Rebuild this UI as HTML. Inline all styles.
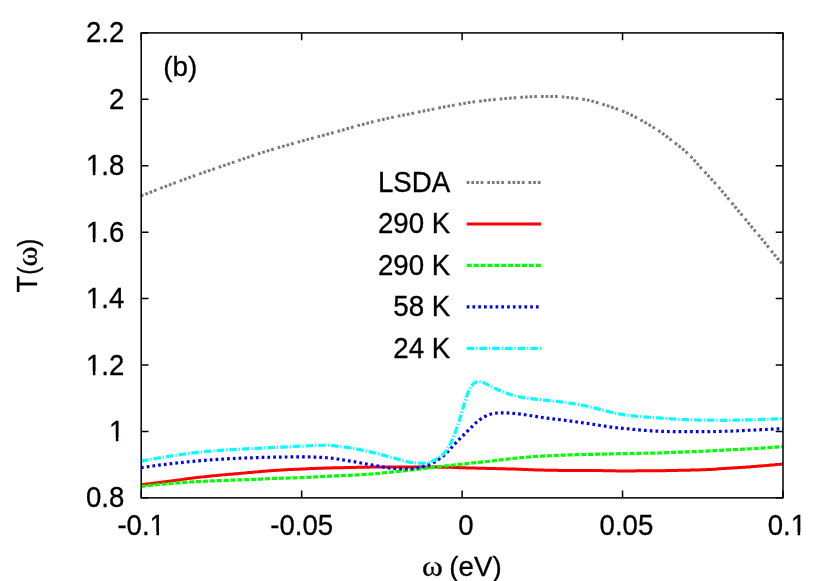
<!DOCTYPE html>
<html><head><meta charset="utf-8"><title>T(w)</title>
<style>
html,body{margin:0;padding:0;background:#fff;}
body{width:830px;height:581px;overflow:hidden;font-family:"Liberation Sans",sans-serif;}
svg{display:block;will-change:transform;}
text{font-family:"Liberation Sans",sans-serif;font-size:28px;fill:#000;stroke:#000;stroke-width:0.3px;}
.sym{font-family:"Liberation Serif",serif;}
</style></head><body>
<svg width="830" height="581" viewBox="0 0 830 581">
<rect x="0" y="0" width="830" height="581" fill="#ffffff"/>
<path d="M141.20,497.85 v-7.3 M141.20,32.9 v7.3 M301.65,497.85 v-7.3 M301.65,32.9 v7.3 M462.10,497.85 v-7.3 M462.10,32.9 v7.3 M622.55,497.85 v-7.3 M622.55,32.9 v7.3 M783.00,497.85 v-7.3 M783.00,32.9 v7.3 M141.2,497.85 h7.3 M783.0,497.85 h-7.3 M141.2,431.43 h7.3 M783.0,431.43 h-7.3 M141.2,365.01 h7.3 M783.0,365.01 h-7.3 M141.2,298.59 h7.3 M783.0,298.59 h-7.3 M141.2,232.16 h7.3 M783.0,232.16 h-7.3 M141.2,165.74 h7.3 M783.0,165.74 h-7.3 M141.2,99.32 h7.3 M783.0,99.32 h-7.3 M141.2,32.90 h7.3 M783.0,32.90 h-7.3" stroke="#000" stroke-width="1.5" fill="none"/>
<text transform="translate(124.30,507.35) scale(0.985,1.04)" text-anchor="end">0.8</text>
<text transform="translate(124.30,440.93) scale(0.985,1.04)" text-anchor="end">1</text>
<rect x="110.27" y="437.55" width="5.58" height="4.88" fill="#fff"/><rect x="118.39" y="437.55" width="5.37" height="4.88" fill="#fff"/>
<text transform="translate(124.30,374.51) scale(0.985,1.04)" text-anchor="end">1.2</text>
<rect x="87.27" y="371.13" width="5.58" height="4.88" fill="#fff"/><rect x="95.39" y="371.13" width="5.37" height="4.88" fill="#fff"/>
<text transform="translate(124.30,308.09) scale(0.985,1.04)" text-anchor="end">1.4</text>
<rect x="87.27" y="304.71" width="5.58" height="4.88" fill="#fff"/><rect x="95.39" y="304.71" width="5.37" height="4.88" fill="#fff"/>
<text transform="translate(124.30,241.66) scale(0.985,1.04)" text-anchor="end">1.6</text>
<rect x="87.27" y="238.29" width="5.58" height="4.88" fill="#fff"/><rect x="95.39" y="238.29" width="5.37" height="4.88" fill="#fff"/>
<text transform="translate(124.30,175.24) scale(0.985,1.04)" text-anchor="end">1.8</text>
<rect x="87.27" y="171.87" width="5.58" height="4.88" fill="#fff"/><rect x="95.39" y="171.87" width="5.37" height="4.88" fill="#fff"/>
<text transform="translate(124.30,108.82) scale(0.985,1.04)" text-anchor="end">2</text>
<text transform="translate(124.30,42.40) scale(0.985,1.04)" text-anchor="end">2.2</text>
<text transform="translate(141.20,535.40) scale(0.985,1.04)" text-anchor="middle">-0.1</text>
<rect x="150.93" y="532.02" width="5.58" height="4.88" fill="#fff"/><rect x="159.05" y="532.02" width="5.37" height="4.88" fill="#fff"/>
<text transform="translate(301.65,535.40) scale(0.985,1.04)" text-anchor="middle">-0.05</text>
<text transform="translate(466.00,535.40) scale(0.985,1.04)" text-anchor="middle">0</text>
<text transform="translate(626.45,535.40) scale(0.985,1.04)" text-anchor="middle">0.05</text>
<text transform="translate(786.90,535.40) scale(0.985,1.04)" text-anchor="middle">0.1</text>
<rect x="792.04" y="532.02" width="5.58" height="4.88" fill="#fff"/><rect x="800.16" y="532.02" width="5.37" height="4.88" fill="#fff"/>
<text class="sym" transform="translate(421.90,576.00) scale(1.13,1.03)" text-anchor="start">ω</text>
<text transform="translate(449.30,576.00) scale(0.99,1.0)" text-anchor="start">(eV)</text>
<text transform="translate(36.80,292.40) rotate(-90) scale(0.985,1.06)" text-anchor="start">T</text>
<text transform="translate(36.80,274.80) rotate(-90) scale(0.85,1.0)" text-anchor="start">(</text>
<text class="sym" transform="translate(36.80,266.40) rotate(-90) scale(1.08,1.06)" text-anchor="start">ω</text>
<text transform="translate(36.80,246.80) rotate(-90) scale(0.85,1.0)" text-anchor="start">)</text>
<text transform="translate(163.30,75.80) scale(0.995,1.0)" text-anchor="start">(b)</text>
<path d="M141.0,196.00 L143.0,195.10 L145.0,194.39 L147.0,193.58 L149.0,192.79 L151.0,191.99 L153.0,191.20 L155.0,190.42 L157.0,189.64 L159.0,188.86 L161.0,188.09 L163.0,187.32 L165.0,186.56 L167.0,185.80 L169.0,185.05 L171.0,184.30 L173.0,183.56 L175.0,182.81 L177.0,182.08 L179.0,181.34 L181.0,180.61 L183.0,179.88 L185.0,179.16 L187.0,178.43 L189.0,177.71 L191.0,176.99 L193.0,176.28 L195.0,175.57 L197.0,174.86 L199.0,174.15 L201.0,173.44 L203.0,172.74 L205.0,172.04 L207.0,171.34 L209.0,170.65 L211.0,169.95 L213.0,169.26 L215.0,168.57 L217.0,167.88 L219.0,167.20 L221.0,166.52 L223.0,165.84 L225.0,165.16 L227.0,164.48 L229.0,163.81 L231.0,163.13 L233.0,162.45 L235.0,161.77 L237.0,161.09 L239.0,160.41 L241.0,159.72 L243.0,159.02 L245.0,158.33 L247.0,157.64 L249.0,156.95 L251.0,156.26 L253.0,155.58 L255.0,154.91 L257.0,154.24 L259.0,153.59 L261.0,152.95 L263.0,152.32 L265.0,151.70 L267.0,151.08 L269.0,150.47 L271.0,149.87 L273.0,149.28 L275.0,148.69 L277.0,148.10 L279.0,147.52 L281.0,146.94 L283.0,146.36 L285.0,145.79 L287.0,145.22 L289.0,144.65 L291.0,144.08 L293.0,143.52 L295.0,142.96 L297.0,142.41 L299.0,141.86 L301.0,141.31 L303.0,140.76 L305.0,140.21 L307.0,139.67 L309.0,139.12 L311.0,138.58 L313.0,138.04 L315.0,137.50 L317.0,136.97 L319.0,136.44 L321.0,135.91 L323.0,135.38 L325.0,134.85 L327.0,134.31 L329.0,133.78 L331.0,133.25 L333.0,132.71 L335.0,132.17 L337.0,131.62 L339.0,131.07 L341.0,130.51 L343.0,129.94 L345.0,129.36 L347.0,128.78 L349.0,128.20 L351.0,127.61 L353.0,127.04 L355.0,126.48 L357.0,125.92 L359.0,125.39 L361.0,124.86 L363.0,124.34 L365.0,123.82 L367.0,123.31 L369.0,122.81 L371.0,122.31 L373.0,121.82 L375.0,121.33 L377.0,120.85 L379.0,120.37 L381.0,119.91 L383.0,119.44 L385.0,118.99 L387.0,118.54 L389.0,118.10 L391.0,117.67 L393.0,117.25 L395.0,116.83 L397.0,116.42 L399.0,116.02 L401.0,115.61 L403.0,115.21 L405.0,114.80 L407.0,114.39 L409.0,113.99 L411.0,113.58 L413.0,113.18 L415.0,112.78 L417.0,112.38 L419.0,111.98 L421.0,111.58 L423.0,111.17 L425.0,110.77 L427.0,110.37 L429.0,109.96 L431.0,109.56 L433.0,109.15 L435.0,108.75 L437.0,108.36 L439.0,107.96 L441.0,107.58 L443.0,107.19 L445.0,106.82 L447.0,106.45 L449.0,106.08 L451.0,105.72 L453.0,105.36 L455.0,104.99 L457.0,104.63 L459.0,104.28 L461.0,103.92 L463.0,103.58 L465.0,103.24 L467.0,102.92 L469.0,102.60 L471.0,102.30 L473.0,102.01 L475.0,101.73 L477.0,101.47 L479.0,101.22 L481.0,100.98 L483.0,100.75 L485.0,100.52 L487.0,100.30 L489.0,100.09 L491.0,99.88 L493.0,99.68 L495.0,99.48 L497.0,99.29 L499.0,99.11 L501.0,98.93 L503.0,98.76 L505.0,98.59 L507.0,98.42 L509.0,98.26 L511.0,98.10 L513.0,97.95 L515.0,97.80 L517.0,97.65 L519.0,97.51 L521.0,97.37 L523.0,97.23 L525.0,97.11 L527.0,96.99 L529.0,96.88 L531.0,96.79 L533.0,96.69 L535.0,96.61 L537.0,96.53 L539.0,96.47 L541.0,96.43 L543.0,96.41 L545.0,96.41 L547.0,96.43 L549.0,96.45 L551.0,96.47 L553.0,96.51 L555.0,96.55 L557.0,96.60 L559.0,96.68 L561.0,96.80 L563.0,96.97 L565.0,97.16 L567.0,97.38 L569.0,97.59 L571.0,97.79 L573.0,97.99 L575.0,98.19 L577.0,98.40 L579.0,98.62 L581.0,98.87 L583.0,99.15 L585.0,99.48 L587.0,99.88 L589.0,100.33 L591.0,100.85 L593.0,101.40 L595.0,101.97 L597.0,102.56 L599.0,103.15 L601.0,103.75 L603.0,104.36 L605.0,104.99 L607.0,105.63 L609.0,106.29 L611.0,106.96 L613.0,107.63 L615.0,108.31 L617.0,109.00 L619.0,109.72 L621.0,110.46 L623.0,111.25 L625.0,112.08 L627.0,112.96 L629.0,113.90 L631.0,114.87 L633.0,115.88 L635.0,116.91 L637.0,117.96 L639.0,119.04 L641.0,120.14 L643.0,121.27 L645.0,122.42 L647.0,123.59 L649.0,124.77 L651.0,125.97 L653.0,127.19 L655.0,128.43 L657.0,129.71 L659.0,131.03 L661.0,132.39 L663.0,133.81 L665.0,135.28 L667.0,136.78 L669.0,138.31 L671.0,139.86 L673.0,141.40 L675.0,142.95 L677.0,144.49 L679.0,146.05 L681.0,147.63 L683.0,149.27 L685.0,150.98 L687.0,152.78 L689.0,154.69 L691.0,156.73 L693.0,158.88 L695.0,161.11 L697.0,163.38 L699.0,165.65 L701.0,167.88 L703.0,170.07 L705.0,172.23 L707.0,174.38 L709.0,176.51 L711.0,178.67 L713.0,180.84 L715.0,183.05 L717.0,185.29 L719.0,187.59 L721.0,189.92 L723.0,192.29 L725.0,194.68 L727.0,197.09 L729.0,199.50 L731.0,201.92 L733.0,204.33 L735.0,206.74 L737.0,209.15 L739.0,211.56 L741.0,213.98 L743.0,216.39 L745.0,218.81 L747.0,221.21 L749.0,223.61 L751.0,226.01 L753.0,228.39 L755.0,230.77 L757.0,233.16 L759.0,235.57 L761.0,237.99 L763.0,240.45 L765.0,242.92 L767.0,245.41 L769.0,247.91 L771.0,250.41 L773.0,252.91 L775.0,255.38 L777.0,257.85 L779.0,260.31 L781.0,262.48 L783.0,265.20" stroke="#7a7a7a" stroke-width="3" fill="none" stroke-dasharray="2.7 1.95 2.7 1.95 2.7 1.95 2.7 4.05"/>
<path d="M141.0,484.90 L143.0,484.60 L145.0,484.36 L147.0,484.09 L149.0,483.82 L151.0,483.56 L153.0,483.29 L155.0,483.02 L157.0,482.76 L159.0,482.50 L161.0,482.23 L163.0,481.97 L165.0,481.71 L167.0,481.45 L169.0,481.19 L171.0,480.93 L173.0,480.68 L175.0,480.42 L177.0,480.15 L179.0,479.89 L181.0,479.63 L183.0,479.37 L185.0,479.10 L187.0,478.84 L189.0,478.58 L191.0,478.33 L193.0,478.08 L195.0,477.83 L197.0,477.58 L199.0,477.34 L201.0,477.10 L203.0,476.88 L205.0,476.65 L207.0,476.44 L209.0,476.23 L211.0,476.02 L213.0,475.82 L215.0,475.62 L217.0,475.43 L219.0,475.24 L221.0,475.06 L223.0,474.88 L225.0,474.70 L227.0,474.52 L229.0,474.34 L231.0,474.17 L233.0,473.99 L235.0,473.82 L237.0,473.65 L239.0,473.48 L241.0,473.30 L243.0,473.13 L245.0,472.95 L247.0,472.78 L249.0,472.60 L251.0,472.42 L253.0,472.23 L255.0,472.05 L257.0,471.87 L259.0,471.69 L261.0,471.52 L263.0,471.34 L265.0,471.17 L267.0,471.00 L269.0,470.84 L271.0,470.69 L273.0,470.54 L275.0,470.40 L277.0,470.26 L279.0,470.14 L281.0,470.02 L283.0,469.90 L285.0,469.80 L287.0,469.70 L289.0,469.60 L291.0,469.50 L293.0,469.41 L295.0,469.32 L297.0,469.24 L299.0,469.15 L301.0,469.06 L303.0,468.97 L305.0,468.89 L307.0,468.80 L309.0,468.71 L311.0,468.62 L313.0,468.53 L315.0,468.45 L317.0,468.37 L319.0,468.29 L321.0,468.22 L323.0,468.15 L325.0,468.09 L327.0,468.03 L329.0,467.97 L331.0,467.92 L333.0,467.87 L335.0,467.82 L337.0,467.77 L339.0,467.73 L341.0,467.69 L343.0,467.64 L345.0,467.60 L347.0,467.56 L349.0,467.52 L351.0,467.47 L353.0,467.43 L355.0,467.39 L357.0,467.34 L359.0,467.30 L361.0,467.26 L363.0,467.22 L365.0,467.19 L367.0,467.16 L369.0,467.13 L371.0,467.11 L373.0,467.10 L375.0,467.09 L377.0,467.08 L379.0,467.07 L381.0,467.06 L383.0,467.06 L385.0,467.05 L387.0,467.04 L389.0,467.04 L391.0,467.03 L393.0,467.03 L395.0,467.03 L397.0,467.02 L399.0,467.02 L401.0,467.01 L403.0,467.01 L405.0,467.01 L407.0,467.00 L409.0,467.00 L411.0,467.00 L413.0,467.00 L415.0,466.99 L417.0,466.99 L419.0,466.99 L421.0,466.99 L423.0,467.00 L425.0,467.00 L427.0,467.01 L429.0,467.03 L431.0,467.04 L433.0,467.06 L435.0,467.09 L437.0,467.11 L439.0,467.13 L441.0,467.16 L443.0,467.19 L445.0,467.22 L447.0,467.26 L449.0,467.30 L451.0,467.36 L453.0,467.42 L455.0,467.49 L457.0,467.56 L459.0,467.64 L461.0,467.71 L463.0,467.78 L465.0,467.85 L467.0,467.91 L469.0,467.97 L471.0,468.02 L473.0,468.07 L475.0,468.12 L477.0,468.17 L479.0,468.21 L481.0,468.26 L483.0,468.30 L485.0,468.35 L487.0,468.40 L489.0,468.44 L491.0,468.49 L493.0,468.54 L495.0,468.59 L497.0,468.64 L499.0,468.68 L501.0,468.73 L503.0,468.78 L505.0,468.83 L507.0,468.89 L509.0,468.94 L511.0,469.00 L513.0,469.06 L515.0,469.12 L517.0,469.19 L519.0,469.27 L521.0,469.35 L523.0,469.43 L525.0,469.52 L527.0,469.60 L529.0,469.69 L531.0,469.77 L533.0,469.84 L535.0,469.91 L537.0,469.97 L539.0,470.02 L541.0,470.07 L543.0,470.12 L545.0,470.16 L547.0,470.20 L549.0,470.24 L551.0,470.28 L553.0,470.31 L555.0,470.34 L557.0,470.37 L559.0,470.39 L561.0,470.41 L563.0,470.42 L565.0,470.43 L567.0,470.44 L569.0,470.45 L571.0,470.45 L573.0,470.46 L575.0,470.46 L577.0,470.47 L579.0,470.47 L581.0,470.48 L583.0,470.49 L585.0,470.49 L587.0,470.50 L589.0,470.52 L591.0,470.53 L593.0,470.54 L595.0,470.56 L597.0,470.58 L599.0,470.60 L601.0,470.62 L603.0,470.64 L605.0,470.66 L607.0,470.69 L609.0,470.71 L611.0,470.75 L613.0,470.79 L615.0,470.84 L617.0,470.89 L619.0,470.94 L621.0,470.97 L623.0,470.98 L625.0,470.97 L627.0,470.96 L629.0,470.94 L631.0,470.92 L633.0,470.89 L635.0,470.88 L637.0,470.86 L639.0,470.85 L641.0,470.84 L643.0,470.83 L645.0,470.82 L647.0,470.81 L649.0,470.80 L651.0,470.78 L653.0,470.77 L655.0,470.76 L657.0,470.74 L659.0,470.72 L661.0,470.70 L663.0,470.67 L665.0,470.64 L667.0,470.60 L669.0,470.56 L671.0,470.52 L673.0,470.48 L675.0,470.44 L677.0,470.40 L679.0,470.35 L681.0,470.31 L683.0,470.27 L685.0,470.23 L687.0,470.19 L689.0,470.15 L691.0,470.11 L693.0,470.06 L695.0,470.01 L697.0,469.96 L699.0,469.90 L701.0,469.84 L703.0,469.77 L705.0,469.69 L707.0,469.59 L709.0,469.49 L711.0,469.38 L713.0,469.26 L715.0,469.13 L717.0,469.00 L719.0,468.87 L721.0,468.73 L723.0,468.60 L725.0,468.47 L727.0,468.34 L729.0,468.22 L731.0,468.09 L733.0,467.96 L735.0,467.83 L737.0,467.70 L739.0,467.57 L741.0,467.44 L743.0,467.30 L745.0,467.17 L747.0,467.02 L749.0,466.88 L751.0,466.73 L753.0,466.58 L755.0,466.43 L757.0,466.27 L759.0,466.11 L761.0,465.95 L763.0,465.79 L765.0,465.62 L767.0,465.45 L769.0,465.28 L771.0,465.10 L773.0,464.92 L775.0,464.74 L777.0,464.56 L779.0,464.38 L781.0,464.21 L783.0,464.00" stroke="#ff0000" stroke-width="3" fill="none"/>
<path d="M141.0,486.30 L143.0,486.06 L145.0,485.86 L147.0,485.65 L149.0,485.44 L151.0,485.23 L153.0,485.03 L155.0,484.83 L157.0,484.64 L159.0,484.45 L161.0,484.26 L163.0,484.08 L165.0,483.91 L167.0,483.74 L169.0,483.58 L171.0,483.42 L173.0,483.26 L175.0,483.11 L177.0,482.97 L179.0,482.82 L181.0,482.68 L183.0,482.54 L185.0,482.40 L187.0,482.27 L189.0,482.14 L191.0,482.01 L193.0,481.89 L195.0,481.77 L197.0,481.65 L199.0,481.54 L201.0,481.43 L203.0,481.33 L205.0,481.23 L207.0,481.13 L209.0,481.04 L211.0,480.95 L213.0,480.87 L215.0,480.79 L217.0,480.71 L219.0,480.64 L221.0,480.56 L223.0,480.49 L225.0,480.42 L227.0,480.35 L229.0,480.29 L231.0,480.22 L233.0,480.15 L235.0,480.08 L237.0,480.01 L239.0,479.94 L241.0,479.86 L243.0,479.79 L245.0,479.71 L247.0,479.63 L249.0,479.54 L251.0,479.46 L253.0,479.37 L255.0,479.29 L257.0,479.20 L259.0,479.11 L261.0,479.03 L263.0,478.94 L265.0,478.85 L267.0,478.77 L269.0,478.68 L271.0,478.60 L273.0,478.52 L275.0,478.44 L277.0,478.37 L279.0,478.30 L281.0,478.23 L283.0,478.17 L285.0,478.11 L287.0,478.05 L289.0,478.00 L291.0,477.94 L293.0,477.89 L295.0,477.83 L297.0,477.77 L299.0,477.71 L301.0,477.64 L303.0,477.56 L305.0,477.48 L307.0,477.39 L309.0,477.28 L311.0,477.17 L313.0,477.06 L315.0,476.94 L317.0,476.82 L319.0,476.70 L321.0,476.59 L323.0,476.48 L325.0,476.38 L327.0,476.28 L329.0,476.19 L331.0,476.11 L333.0,476.02 L335.0,475.94 L337.0,475.86 L339.0,475.78 L341.0,475.69 L343.0,475.60 L345.0,475.51 L347.0,475.42 L349.0,475.32 L351.0,475.22 L353.0,475.11 L355.0,475.00 L357.0,474.89 L359.0,474.78 L361.0,474.66 L363.0,474.54 L365.0,474.41 L367.0,474.28 L369.0,474.15 L371.0,474.00 L373.0,473.85 L375.0,473.69 L377.0,473.52 L379.0,473.34 L381.0,473.15 L383.0,472.96 L385.0,472.75 L387.0,472.55 L389.0,472.34 L391.0,472.13 L393.0,471.91 L395.0,471.71 L397.0,471.50 L399.0,471.29 L401.0,471.08 L403.0,470.87 L405.0,470.66 L407.0,470.44 L409.0,470.23 L411.0,470.01 L413.0,469.79 L415.0,469.57 L417.0,469.34 L419.0,469.12 L421.0,468.89 L423.0,468.66 L425.0,468.42 L427.0,468.18 L429.0,467.94 L431.0,467.69 L433.0,467.45 L435.0,467.20 L437.0,466.96 L439.0,466.71 L441.0,466.47 L443.0,466.24 L445.0,466.01 L447.0,465.78 L449.0,465.55 L451.0,465.33 L453.0,465.11 L455.0,464.89 L457.0,464.67 L459.0,464.45 L461.0,464.23 L463.0,464.02 L465.0,463.80 L467.0,463.59 L469.0,463.37 L471.0,463.16 L473.0,462.95 L475.0,462.74 L477.0,462.53 L479.0,462.32 L481.0,462.11 L483.0,461.90 L485.0,461.69 L487.0,461.47 L489.0,461.26 L491.0,461.03 L493.0,460.81 L495.0,460.57 L497.0,460.33 L499.0,460.09 L501.0,459.85 L503.0,459.61 L505.0,459.37 L507.0,459.14 L509.0,458.91 L511.0,458.70 L513.0,458.48 L515.0,458.28 L517.0,458.08 L519.0,457.89 L521.0,457.69 L523.0,457.50 L525.0,457.32 L527.0,457.14 L529.0,456.97 L531.0,456.80 L533.0,456.65 L535.0,456.50 L537.0,456.37 L539.0,456.25 L541.0,456.13 L543.0,456.02 L545.0,455.92 L547.0,455.83 L549.0,455.73 L551.0,455.64 L553.0,455.56 L555.0,455.48 L557.0,455.40 L559.0,455.32 L561.0,455.25 L563.0,455.17 L565.0,455.10 L567.0,455.03 L569.0,454.96 L571.0,454.90 L573.0,454.83 L575.0,454.77 L577.0,454.71 L579.0,454.65 L581.0,454.59 L583.0,454.54 L585.0,454.49 L587.0,454.43 L589.0,454.38 L591.0,454.33 L593.0,454.28 L595.0,454.24 L597.0,454.19 L599.0,454.15 L601.0,454.10 L603.0,454.06 L605.0,454.02 L607.0,453.98 L609.0,453.93 L611.0,453.89 L613.0,453.85 L615.0,453.80 L617.0,453.76 L619.0,453.72 L621.0,453.67 L623.0,453.63 L625.0,453.59 L627.0,453.55 L629.0,453.51 L631.0,453.47 L633.0,453.43 L635.0,453.39 L637.0,453.36 L639.0,453.33 L641.0,453.30 L643.0,453.27 L645.0,453.24 L647.0,453.21 L649.0,453.18 L651.0,453.15 L653.0,453.12 L655.0,453.08 L657.0,453.04 L659.0,452.99 L661.0,452.93 L663.0,452.86 L665.0,452.78 L667.0,452.70 L669.0,452.61 L671.0,452.52 L673.0,452.43 L675.0,452.34 L677.0,452.25 L679.0,452.17 L681.0,452.09 L683.0,452.02 L685.0,451.94 L687.0,451.87 L689.0,451.79 L691.0,451.72 L693.0,451.64 L695.0,451.57 L697.0,451.49 L699.0,451.41 L701.0,451.32 L703.0,451.23 L705.0,451.14 L707.0,451.04 L709.0,450.94 L711.0,450.83 L713.0,450.73 L715.0,450.62 L717.0,450.51 L719.0,450.40 L721.0,450.29 L723.0,450.18 L725.0,450.07 L727.0,449.97 L729.0,449.87 L731.0,449.77 L733.0,449.68 L735.0,449.58 L737.0,449.49 L739.0,449.39 L741.0,449.29 L743.0,449.20 L745.0,449.09 L747.0,448.99 L749.0,448.88 L751.0,448.77 L753.0,448.65 L755.0,448.53 L757.0,448.41 L759.0,448.29 L761.0,448.16 L763.0,448.03 L765.0,447.90 L767.0,447.77 L769.0,447.63 L771.0,447.49 L773.0,447.35 L775.0,447.20 L777.0,447.06 L779.0,446.91 L781.0,446.77 L783.0,446.60" stroke="#00ff00" stroke-width="3.2" fill="none" stroke-dasharray="5.1 1.8"/>
<path d="M141.0,467.70 L143.0,467.37 L145.0,467.11 L147.0,466.82 L149.0,466.53 L151.0,466.25 L153.0,465.97 L155.0,465.70 L157.0,465.43 L159.0,465.16 L161.0,464.91 L163.0,464.65 L165.0,464.40 L167.0,464.16 L169.0,463.92 L171.0,463.69 L173.0,463.46 L175.0,463.24 L177.0,463.02 L179.0,462.80 L181.0,462.58 L183.0,462.36 L185.0,462.15 L187.0,461.95 L189.0,461.74 L191.0,461.54 L193.0,461.35 L195.0,461.16 L197.0,460.98 L199.0,460.80 L201.0,460.63 L203.0,460.47 L205.0,460.31 L207.0,460.16 L209.0,460.01 L211.0,459.87 L213.0,459.73 L215.0,459.59 L217.0,459.46 L219.0,459.33 L221.0,459.20 L223.0,459.07 L225.0,458.95 L227.0,458.84 L229.0,458.72 L231.0,458.61 L233.0,458.51 L235.0,458.41 L237.0,458.32 L239.0,458.23 L241.0,458.15 L243.0,458.07 L245.0,457.99 L247.0,457.92 L249.0,457.85 L251.0,457.78 L253.0,457.72 L255.0,457.65 L257.0,457.59 L259.0,457.53 L261.0,457.47 L263.0,457.42 L265.0,457.36 L267.0,457.32 L269.0,457.27 L271.0,457.23 L273.0,457.19 L275.0,457.15 L277.0,457.12 L279.0,457.09 L281.0,457.07 L283.0,457.04 L285.0,457.02 L287.0,456.99 L289.0,456.97 L291.0,456.95 L293.0,456.93 L295.0,456.92 L297.0,456.91 L299.0,456.90 L301.0,456.89 L303.0,456.89 L305.0,456.89 L307.0,456.91 L309.0,456.95 L311.0,456.99 L313.0,457.05 L315.0,457.12 L317.0,457.20 L319.0,457.28 L321.0,457.37 L323.0,457.47 L325.0,457.59 L327.0,457.74 L329.0,457.92 L331.0,458.14 L333.0,458.39 L335.0,458.66 L337.0,458.96 L339.0,459.27 L341.0,459.59 L343.0,459.91 L345.0,460.23 L347.0,460.55 L349.0,460.88 L351.0,461.20 L353.0,461.55 L355.0,461.90 L357.0,462.27 L359.0,462.64 L361.0,463.02 L363.0,463.40 L365.0,463.77 L367.0,464.14 L369.0,464.50 L371.0,464.85 L373.0,465.20 L375.0,465.55 L377.0,465.92 L379.0,466.29 L381.0,466.67 L383.0,467.04 L385.0,467.40 L387.0,467.73 L389.0,468.02 L391.0,468.27 L393.0,468.46 L395.0,468.60 L397.0,468.69 L399.0,468.75 L401.0,468.80 L403.0,468.83 L405.0,468.85 L407.0,468.85 L409.0,468.81 L411.0,468.70 L413.0,468.51 L415.0,468.23 L417.0,467.90 L419.0,467.52 L421.0,467.09 L423.0,466.60 L425.0,466.01 L427.0,465.34 L429.0,464.58 L431.0,463.73 L433.0,462.79 L435.0,461.74 L437.0,460.54 L439.0,459.21 L441.0,457.76 L443.0,456.19 L445.0,454.48 L447.0,452.59 L449.0,450.50 L451.0,448.25 L453.0,445.95 L455.0,443.71 L457.0,441.59 L459.0,439.56 L461.0,437.59 L463.0,435.61 L465.0,433.61 L467.0,431.59 L469.0,429.57 L471.0,427.56 L473.0,425.58 L475.0,423.67 L477.0,421.90 L479.0,420.28 L481.0,418.83 L483.0,417.55 L485.0,416.43 L487.0,415.48 L489.0,414.68 L491.0,414.06 L493.0,413.60 L495.0,413.26 L497.0,413.02 L499.0,412.88 L501.0,412.83 L503.0,412.85 L505.0,412.90 L507.0,412.97 L509.0,413.06 L511.0,413.17 L513.0,413.32 L515.0,413.51 L517.0,413.72 L519.0,413.96 L521.0,414.21 L523.0,414.47 L525.0,414.76 L527.0,415.07 L529.0,415.38 L531.0,415.71 L533.0,416.03 L535.0,416.35 L537.0,416.66 L539.0,416.97 L541.0,417.26 L543.0,417.55 L545.0,417.83 L547.0,418.11 L549.0,418.38 L551.0,418.63 L553.0,418.87 L555.0,419.09 L557.0,419.32 L559.0,419.54 L561.0,419.78 L563.0,420.03 L565.0,420.29 L567.0,420.57 L569.0,420.85 L571.0,421.14 L573.0,421.43 L575.0,421.71 L577.0,421.99 L579.0,422.27 L581.0,422.54 L583.0,422.82 L585.0,423.11 L587.0,423.39 L589.0,423.69 L591.0,423.99 L593.0,424.29 L595.0,424.60 L597.0,424.90 L599.0,425.22 L601.0,425.53 L603.0,425.86 L605.0,426.18 L607.0,426.48 L609.0,426.77 L611.0,427.04 L613.0,427.29 L615.0,427.52 L617.0,427.73 L619.0,427.94 L621.0,428.15 L623.0,428.35 L625.0,428.56 L627.0,428.76 L629.0,428.96 L631.0,429.16 L633.0,429.35 L635.0,429.53 L637.0,429.71 L639.0,429.89 L641.0,430.06 L643.0,430.22 L645.0,430.38 L647.0,430.52 L649.0,430.66 L651.0,430.79 L653.0,430.91 L655.0,431.02 L657.0,431.12 L659.0,431.21 L661.0,431.28 L663.0,431.36 L665.0,431.43 L667.0,431.49 L669.0,431.55 L671.0,431.60 L673.0,431.64 L675.0,431.67 L677.0,431.69 L679.0,431.70 L681.0,431.70 L683.0,431.70 L685.0,431.70 L687.0,431.70 L689.0,431.70 L691.0,431.70 L693.0,431.70 L695.0,431.70 L697.0,431.70 L699.0,431.70 L701.0,431.70 L703.0,431.69 L705.0,431.68 L707.0,431.66 L709.0,431.64 L711.0,431.60 L713.0,431.56 L715.0,431.51 L717.0,431.46 L719.0,431.41 L721.0,431.35 L723.0,431.30 L725.0,431.24 L727.0,431.18 L729.0,431.12 L731.0,431.05 L733.0,430.98 L735.0,430.90 L737.0,430.81 L739.0,430.73 L741.0,430.64 L743.0,430.54 L745.0,430.45 L747.0,430.36 L749.0,430.27 L751.0,430.18 L753.0,430.09 L755.0,429.99 L757.0,429.90 L759.0,429.81 L761.0,429.71 L763.0,429.62 L765.0,429.52 L767.0,429.42 L769.0,429.32 L771.0,429.22 L773.0,429.12 L775.0,429.02 L777.0,428.92 L779.0,428.81 L781.0,428.72 L783.0,428.60" stroke="#0000ff" stroke-width="3.2" fill="none" stroke-dasharray="2.7 3.07"/>
<path d="M141.0,461.10 L143.0,460.68 L145.0,460.35 L147.0,459.99 L149.0,459.62 L151.0,459.26 L153.0,458.91 L155.0,458.56 L157.0,458.22 L159.0,457.88 L161.0,457.55 L163.0,457.23 L165.0,456.91 L167.0,456.60 L169.0,456.29 L171.0,456.00 L173.0,455.70 L175.0,455.41 L177.0,455.12 L179.0,454.82 L181.0,454.54 L183.0,454.25 L185.0,453.97 L187.0,453.70 L189.0,453.43 L191.0,453.16 L193.0,452.91 L195.0,452.66 L197.0,452.42 L199.0,452.19 L201.0,451.97 L203.0,451.77 L205.0,451.57 L207.0,451.39 L209.0,451.22 L211.0,451.05 L213.0,450.89 L215.0,450.74 L217.0,450.59 L219.0,450.45 L221.0,450.32 L223.0,450.18 L225.0,450.05 L227.0,449.93 L229.0,449.81 L231.0,449.69 L233.0,449.57 L235.0,449.46 L237.0,449.34 L239.0,449.23 L241.0,449.12 L243.0,449.00 L245.0,448.89 L247.0,448.78 L249.0,448.68 L251.0,448.57 L253.0,448.47 L255.0,448.37 L257.0,448.28 L259.0,448.18 L261.0,448.08 L263.0,447.99 L265.0,447.89 L267.0,447.80 L269.0,447.71 L271.0,447.61 L273.0,447.52 L275.0,447.42 L277.0,447.33 L279.0,447.23 L281.0,447.13 L283.0,447.03 L285.0,446.93 L287.0,446.82 L289.0,446.72 L291.0,446.62 L293.0,446.51 L295.0,446.41 L297.0,446.31 L299.0,446.22 L301.0,446.12 L303.0,446.03 L305.0,445.94 L307.0,445.84 L309.0,445.74 L311.0,445.64 L313.0,445.54 L315.0,445.44 L317.0,445.36 L319.0,445.30 L321.0,445.25 L323.0,445.23 L325.0,445.24 L327.0,445.29 L329.0,445.38 L331.0,445.51 L333.0,445.69 L335.0,445.89 L337.0,446.11 L339.0,446.36 L341.0,446.62 L343.0,446.89 L345.0,447.16 L347.0,447.44 L349.0,447.72 L351.0,448.02 L353.0,448.35 L355.0,448.70 L357.0,449.08 L359.0,449.47 L361.0,449.89 L363.0,450.31 L365.0,450.75 L367.0,451.20 L369.0,451.65 L371.0,452.11 L373.0,452.57 L375.0,453.05 L377.0,453.54 L379.0,454.05 L381.0,454.58 L383.0,455.11 L385.0,455.65 L387.0,456.20 L389.0,456.74 L391.0,457.28 L393.0,457.81 L395.0,458.34 L397.0,458.87 L399.0,459.42 L401.0,459.99 L403.0,460.56 L405.0,461.12 L407.0,461.64 L409.0,462.09 L411.0,462.45 L413.0,462.72 L415.0,462.91 L417.0,463.06 L419.0,463.17 L421.0,463.23 L423.0,463.19 L425.0,463.01 L427.0,462.66 L429.0,462.16 L431.0,461.55 L433.0,460.84 L435.0,459.98 L437.0,458.96 L439.0,457.73 L441.0,456.26 L443.0,454.47 L445.0,452.26 L447.0,449.57 L449.0,446.36 L451.0,442.55 L453.0,438.08 L455.0,433.00 L457.0,427.37 L459.0,421.28 L461.0,414.80 L463.0,408.08 L465.0,401.43 L467.0,395.33 L469.0,390.29 L471.0,386.54 L473.0,384.04 L475.0,382.52 L477.0,381.73 L479.0,381.50 L481.0,381.77 L483.0,382.43 L485.0,383.34 L487.0,384.34 L489.0,385.36 L491.0,386.38 L493.0,387.38 L495.0,388.35 L497.0,389.28 L499.0,390.17 L501.0,391.03 L503.0,391.84 L505.0,392.62 L507.0,393.35 L509.0,394.04 L511.0,394.68 L513.0,395.27 L515.0,395.79 L517.0,396.27 L519.0,396.70 L521.0,397.10 L523.0,397.47 L525.0,397.81 L527.0,398.12 L529.0,398.40 L531.0,398.66 L533.0,398.91 L535.0,399.14 L537.0,399.36 L539.0,399.58 L541.0,399.79 L543.0,399.99 L545.0,400.18 L547.0,400.38 L549.0,400.58 L551.0,400.79 L553.0,401.00 L555.0,401.22 L557.0,401.44 L559.0,401.68 L561.0,401.92 L563.0,402.17 L565.0,402.44 L567.0,402.72 L569.0,403.01 L571.0,403.31 L573.0,403.63 L575.0,403.95 L577.0,404.29 L579.0,404.64 L581.0,405.01 L583.0,405.39 L585.0,405.80 L587.0,406.22 L589.0,406.68 L591.0,407.16 L593.0,407.65 L595.0,408.16 L597.0,408.67 L599.0,409.19 L601.0,409.70 L603.0,410.22 L605.0,410.74 L607.0,411.25 L609.0,411.74 L611.0,412.20 L613.0,412.65 L615.0,413.08 L617.0,413.49 L619.0,413.88 L621.0,414.23 L623.0,414.56 L625.0,414.85 L627.0,415.12 L629.0,415.37 L631.0,415.60 L633.0,415.82 L635.0,416.04 L637.0,416.24 L639.0,416.44 L641.0,416.62 L643.0,416.80 L645.0,416.97 L647.0,417.12 L649.0,417.27 L651.0,417.40 L653.0,417.53 L655.0,417.66 L657.0,417.79 L659.0,417.93 L661.0,418.07 L663.0,418.22 L665.0,418.38 L667.0,418.54 L669.0,418.69 L671.0,418.85 L673.0,418.99 L675.0,419.12 L677.0,419.23 L679.0,419.33 L681.0,419.42 L683.0,419.51 L685.0,419.60 L687.0,419.68 L689.0,419.75 L691.0,419.82 L693.0,419.89 L695.0,419.94 L697.0,419.99 L699.0,420.04 L701.0,420.08 L703.0,420.11 L705.0,420.13 L707.0,420.16 L709.0,420.18 L711.0,420.21 L713.0,420.23 L715.0,420.24 L717.0,420.26 L719.0,420.27 L721.0,420.28 L723.0,420.29 L725.0,420.30 L727.0,420.29 L729.0,420.28 L731.0,420.26 L733.0,420.24 L735.0,420.20 L737.0,420.16 L739.0,420.11 L741.0,420.06 L743.0,420.01 L745.0,419.95 L747.0,419.90 L749.0,419.84 L751.0,419.79 L753.0,419.73 L755.0,419.67 L757.0,419.61 L759.0,419.55 L761.0,419.48 L763.0,419.41 L765.0,419.34 L767.0,419.27 L769.0,419.19 L771.0,419.12 L773.0,419.04 L775.0,418.95 L777.0,418.87 L779.0,418.78 L781.0,418.70 L783.0,418.60" stroke="#00ffff" stroke-width="3.2" fill="none" stroke-dasharray="7.5 2 1.23 2"/>
<text transform="translate(450.30,191.70) scale(0.99,1.05)" text-anchor="end">LSDA</text>
<path d="M466.7,182.5 H541" stroke="#7a7a7a" stroke-width="3" fill="none" stroke-dasharray="2.7 1.95 2.7 1.95 2.7 1.95 2.7 3.95"/>
<text transform="translate(450.30,233.10) scale(0.99,1.04)" text-anchor="end">290 K</text>
<path d="M466.7,223.9 H541" stroke="#ff0000" stroke-width="3" fill="none"/>
<text transform="translate(450.30,274.60) scale(0.99,1.04)" text-anchor="end">290 K</text>
<path d="M466.7,265.4 H541" stroke="#00ff00" stroke-width="3.2" fill="none" stroke-dasharray="5.1 1.8"/>
<text transform="translate(450.30,316.00) scale(0.99,1.04)" text-anchor="end">58 K</text>
<path d="M466.7,306.8 H541" stroke="#0000ff" stroke-width="3.2" fill="none" stroke-dasharray="2.7 3.07"/>
<text transform="translate(450.30,357.50) scale(0.99,1.04)" text-anchor="end">24 K</text>
<path d="M466.7,348.3 H541" stroke="#00ffff" stroke-width="3.2" fill="none" stroke-dasharray="7.5 2 1.23 2"/>
<rect x="141.2" y="32.9" width="641.8" height="464.95000000000005" fill="none" stroke="#000" stroke-width="1.5"/>
</svg>
</body></html>
